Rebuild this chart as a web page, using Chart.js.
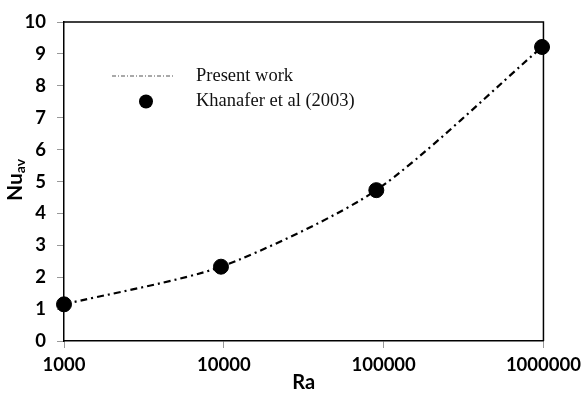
<!DOCTYPE html>
<html>
<head>
<meta charset="utf-8">
<script src="https://cdn.jsdelivr.net/npm/chart.js@4"></script>
<style>
  html, body { margin: 0; padding: 0; background: #fff; }
  #wrap { width: 587px; height: 393px; }
</style>
</head>
<body>
<div id="wrap"><canvas id="nuChart"></canvas></div>
<script>
// Rayleigh numbers and average Nusselt numbers
const raValues = [1000, 9600, 90000, 980000];
const presentWork = [1.15, 2.33, 4.73, 9.22];
const khanafer = [1.15, 2.33, 4.73, 9.22];
const xTicks = [1000, 10000, 100000, 1000000];
const yTicks = [0, 1, 2, 3, 4, 5, 6, 7, 8, 9, 10];

const tickFont = { family: 'Lato', size: 18.5, weight: 'bold' };

// box round the plot, legend and the Nu_av title
const extras = {
   id: 'extras',
   afterDraw(chart) {
      const ctx = chart.ctx;
      const a = chart.chartArea;
      ctx.save();
      ctx.strokeStyle = '#000';
      ctx.lineWidth = 1.5;
      ctx.beginPath();
      ctx.moveTo(a.left, a.top);
      ctx.lineTo(a.right, a.top);
      ctx.lineTo(a.right, a.bottom);
      ctx.stroke();

      // legend
      ctx.strokeStyle = '#555';
      ctx.lineWidth = 1.2;
      ctx.setLineDash([4, 2, 1, 2]);
      ctx.beginPath();
      ctx.moveTo(112, 76);
      ctx.lineTo(175, 76);
      ctx.stroke();
      ctx.setLineDash([]);
      ctx.fillStyle = '#000';
      ctx.beginPath();
      ctx.arc(146, 101.5, 7, 0, Math.PI * 2);
      ctx.fill();
      ctx.font = '18.5px "Liberation Serif"';
      ctx.textBaseline = 'middle';
      ctx.fillStyle = '#111';
      ctx.fillText(chart.data.datasets[0].label, 196, 76);
      ctx.fillText(chart.data.datasets[1].label, 196, 101);

      // y axis title with subscript
      ctx.translate(22, 180);
      ctx.rotate(-Math.PI / 2);
      ctx.textBaseline = 'alphabetic';
      ctx.fillStyle = '#000';
      ctx.font = 'bold 21px Lato';
      const w1 = ctx.measureText('Nu').width;
      ctx.font = 'bold 14px Lato';
      const w2 = ctx.measureText('av').width;
      const x0 = -(w1 + w2) / 2;
      ctx.font = 'bold 21px Lato';
      ctx.fillText('Nu', x0, 0);
      ctx.font = 'bold 14px Lato';
      ctx.fillText('av', x0 + w1, 3);
      ctx.restore();
   }
};

const chart = new Chart(document.getElementById('nuChart'), {
   type: 'scatter',
   data: {
      datasets: [{
         label: 'Present work',
         data: raValues.map((x, i) => ({ x: x, y: presentWork[i] })),
         showLine: true,
         borderColor: '#000',
         borderWidth: 2.2,
         borderDash: [7, 4, 2, 4],
         tension: 0.25,
         pointRadius: 0,
         order: 2
      }, {
         label: 'Khanafer et al (2003)',
         data: raValues.map((x, i) => ({ x: x, y: khanafer[i] })),
         showLine: false,
         backgroundColor: '#000',
         borderColor: '#000',
         pointRadius: 7.5,
         order: 1
      }]
   },
   plugins: [extras],
   options: {
      responsive: true,
      maintainAspectRatio: false,
      animation: false,
      clip: false,
      layout: {
         padding: { left: 0, right: 40, top: 21, bottom: 0 }
      },
      plugins: {
         legend: { display: false },
         tooltip: { enabled: false }
      },
      scales: {
         x: {
            type: 'logarithmic',
            min: 1000,
            max: 1000000,
            afterBuildTicks: s => { s.ticks = xTicks.map(v => ({ value: v })); },
            afterFit: s => { s.height = 52; },
            ticks: {
               font: tickFont,
               color: '#000',
               padding: 6,
               maxRotation: 0,
               callback: v => String(v)
            },
            grid: {
               drawOnChartArea: false,
               drawTicks: true,
               tickLength: 7,
               tickColor: '#999'
            },
            border: { color: '#000', width: 1.5 },
            title: {
               display: true,
               text: 'Ra',
               color: '#000',
               font: { family: 'Lato', size: 20, weight: 'bold', lineHeight: 1 },
               padding: { top: 0, bottom: 0 }
            }
         },
         y: {
            min: 0,
            max: 10,
            afterBuildTicks: s => { s.ticks = yTicks.map(v => ({ value: v })); },
            afterFit: s => { s.width = 64; },
            ticks: {
               font: tickFont,
               color: '#000',
               padding: 11
            },
            grid: {
               drawOnChartArea: false,
               drawTicks: true,
               tickLength: 7,
               tickColor: '#999'
            },
            border: { color: '#000', width: 1.5 }
         }
      }
   }
});
</script>
</body>
</html>
